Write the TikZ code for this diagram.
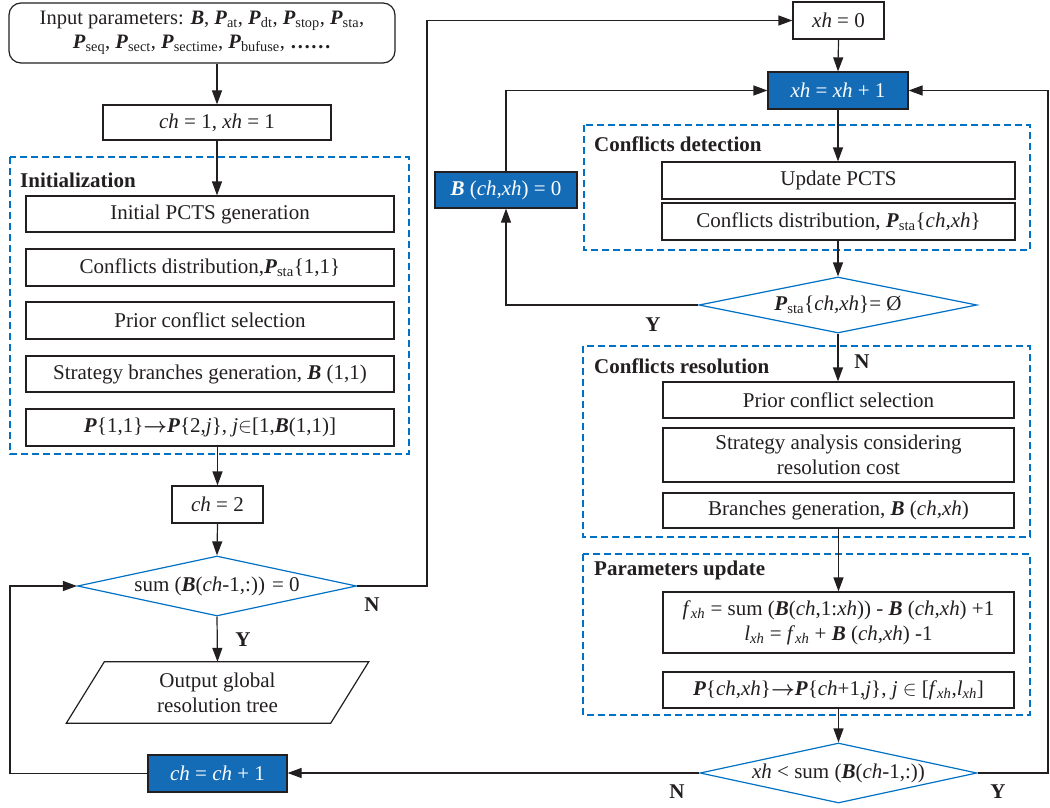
\documentclass[tikz,border=0pt]{standalone}
\usepackage{fontspec}
\setmainfont{Liberation Serif}
\usepackage{amsmath}
\usetikzlibrary{arrows.meta,shapes.geometric}
\definecolor{lineblk}{RGB}{35,31,32}
\definecolor{dashblue}{RGB}{0,114,198}
\definecolor{fillblue}{RGB}{20,108,182}
\newcommand{\bi}[1]{\textbf{\textit{#1}}}
\newcommand{\sbs}[1]{\textsubscript{#1}}
\newcommand{\ti}[1]{\textit{#1}}
\tikzset{
  base/.style={font=\fontsize{21}{25}\selectfont, text=lineblk},
  box/.style={base, draw=lineblk, line width=1.2pt, rectangle, inner sep=0pt, align=center},
  bluebox/.style={box, fill=fillblue, text=white},
  dia/.style={draw=dashblue, line width=1.2pt, shape=diamond, inner sep=0pt},
  grp/.style={draw=dashblue, line width=1.2pt, dash pattern=on 7pt off 4pt},
  grplabel/.style={base, font=\fontsize{21}{24}\selectfont\bfseries, anchor=west, inner sep=0pt},
  yn/.style={base, font=\fontsize{21}{24}\selectfont\bfseries, inner sep=0pt},
  arr/.style={draw=lineblk, line width=1.2pt, -{Triangle[length=14pt,width=10pt]}},
  ln/.style={draw=lineblk, line width=1.2pt}
}
\begin{document}
\begin{tikzpicture}[x=1pt,y=-1pt]
\useasboundingbox (0,0) rectangle (1050,808);

% group frames
\draw[grp] (10,157) rectangle (409,454);
\draw[grp] (584,125) rectangle (1030,250);
\draw[grp] (583,346) rectangle (1030,537);
\draw[grp] (583,554) rectangle (1030,715);
\node[grplabel] (ginit) at (20,180) {Initialization};
\node[grplabel] (gdet) at (594,144) {Conflicts detection};
\node[grplabel] (gres) at (594,366) {Conflicts resolution};
\node[grplabel] (gpar) at (594,570) {Parameters update};

% left column
\node[box, rounded corners=12pt, minimum width=386pt, minimum height=60pt, font=\fontsize{20.5}{24}\selectfont] (in) at (202,33)
 {Input parameters: \bi{B}, \bi{P}\sbs{at}, \bi{P}\sbs{dt}, \bi{P}\sbs{stop}, \bi{P}\sbs{sta},\\
  \bi{P}\sbs{seq}, \bi{P}\sbs{sect}, \bi{P}\sbs{sectime}, \bi{P}\sbs{bufuse}, \textbf{\dots\dots}};
\node[box, minimum width=228pt, minimum height=35pt] (c1) at (217,122.5) {\ti{ch} = 1, \ti{xh} = 1};
\node[box, minimum width=368pt, minimum height=36pt] (b1) at (210,214) {Initial PCTS generation};
\node[box, minimum width=368pt, minimum height=37pt] (b2) at (210,267.5) {Conflicts distribution,\bi{P}\sbs{sta}\{1,1\}};
\node[box, minimum width=368pt, minimum height=37pt] (b3) at (210,320.5) {Prior conflict selection};
\node[box, minimum width=368pt, minimum height=36pt] (b4) at (210,374) {Strategy branches generation, \bi{B} (1,1)};
\node[box, minimum width=368pt, minimum height=37pt] (b5) at (210,427.5) {\bi{P}\{1,1\}$\boldsymbol{\rightarrow}$\bi{P}\{2,\ti{j}\}, \ti{j}$\in$[1,\bi{B}(1,1)]};
\node[box, minimum width=91pt, minimum height=37pt] (c2) at (217.5,504.5) {\ti{ch} = 2};
\node[dia, minimum width=279pt, minimum height=60pt] (d1) at (217,586) {};
\node[base, inner sep=0pt] (d1t) at (217,586) {sum (\bi{B}(\ti{ch}-1,:)) = 0};
\node[base, align=center, minimum width=264pt, minimum height=61pt, inner sep=0pt] (out) at (217.5,692.5) {Output global\\resolution tree};
\draw[ln] ([xshift=19pt]out.north west) -- ([xshift=19pt]out.north east) -- ([xshift=-19pt]out.south east) -- ([xshift=-19pt]out.south west) -- cycle;
\node[bluebox, minimum width=139pt, minimum height=37pt] (inc) at (217.5,773.5) {\ti{ch} = \ti{ch} + 1};

% right column
\node[box, minimum width=91pt, minimum height=37pt] (x0) at (838.5,20.5) {\ti{xh} = 0};
\node[bluebox, minimum width=140pt, minimum height=37pt] (xinc) at (838,90.5) {\ti{xh} = \ti{xh} + 1};
\node[bluebox, minimum width=142pt, minimum height=36pt] (bz) at (506,190) {\bi{B} (\ti{ch,xh}) = 0};
\node[box, minimum width=353pt, minimum height=37pt] (up) at (838.5,180.5) {Update PCTS};
\node[box, minimum width=353pt, minimum height=37pt] (cd) at (838.5,221.5) {Conflicts distribution, \bi{P}\sbs{sta}\{\ti{ch,xh}\}};
\node[dia, minimum width=278pt, minimum height=56pt] (d2) at (838,305) {};
\node[base, inner sep=0pt] (d2t) at (838,305) {\bi{P}\sbs{sta}\{\ti{ch,xh}\}= Ø};
\node[box, minimum width=351pt, minimum height=36pt] (pr) at (838.5,400) {Prior conflict selection};
\node[box, minimum width=351pt, minimum height=54pt] (sa) at (838.5,455) {Strategy analysis considering\\resolution cost};
\node[box, minimum width=351pt, minimum height=35pt] (bg) at (838.5,510.5) {Branches generation, \bi{B} (\ti{ch,xh})};
\node[box, minimum width=351pt, minimum height=61pt] (fx) at (838.5,622.5)
 {\ti{f}\sbs{\ti{xh}} = sum (\bi{B}(\ti{ch},1:\ti{xh})) - \bi{B} (\ti{ch,xh}) +1\\
  \ti{l}\sbs{\ti{xh}} = \ti{f}\sbs{\ti{xh}} + \bi{B} (\ti{ch,xh}) -1};
\node[box, minimum width=351pt, minimum height=36pt] (pp) at (838.5,690)
 {\bi{P}\{\ti{ch,xh}\}$\boldsymbol{\rightarrow}$\bi{P}\{\ti{ch}+1,\ti{j}\}, \ti{j} $\in$ [\ti{f}\sbs{\ti{xh}},\ti{l}\sbs{\ti{xh}}]};
\node[dia, minimum width=277pt, minimum height=60pt] (d3) at (838.5,773) {};
\node[base, inner sep=0pt] (d3t) at (838.5,773) {\ti{xh} < sum (\bi{B}(\ti{ch}-1,:))};

% helper coordinates
\coordinate (L) at (10,0);
\coordinate (R1) at (427,0);
\coordinate (R2) at (1048,0);

% connectors
\draw[arr] (in.south -| c1.north) -- (c1.north);
\draw[arr] (c1.south) -- (c1.south |- b1.north);
\draw[arr] (b5.south -| c2.north) -- (c2.north);
\draw[arr] (c2.south) -- (d1.north);
\draw[arr] (d1.south) -- (out.north);
\draw[arr] (inc.west) -| (L |- d1.west) -- (d1.west);
\draw[arr] (d1.east) -| (R1 |- x0.west) -- (x0.west);
\draw[arr] (x0.south) -- (xinc.north);
\draw[arr] (xinc.south) -- (xinc.south |- up.north);
\draw[arr] (cd.south -| d2.north) -- (d2.north);
\draw[arr] (d2.west) -| (bz.south);
\draw[arr] (bz.north) |- (xinc.west);
\draw[arr] (d2.south) -- (d2.south |- pr.north);
\draw[arr] (bg.south) -- (fx.north);
\draw[arr] (pp.south -| d3.north) -- (d3.north);
\draw[arr] (d3.west) -- (d3.west -| inc.east);
\draw[arr] (d3.east) -| (R2 |- xinc.east) -- (xinc.east);

% Y/N labels
\node[yn] (n1) at (372,605) {N};
\node[yn] (y1) at (243,640) {Y};
\node[yn] (y2) at (653,325) {Y};
\node[yn] (n2) at (862,362) {N};
\node[yn] (n3) at (677,792) {N};
\node[yn] (y3) at (998,792) {Y};
\end{tikzpicture}
\end{document}
